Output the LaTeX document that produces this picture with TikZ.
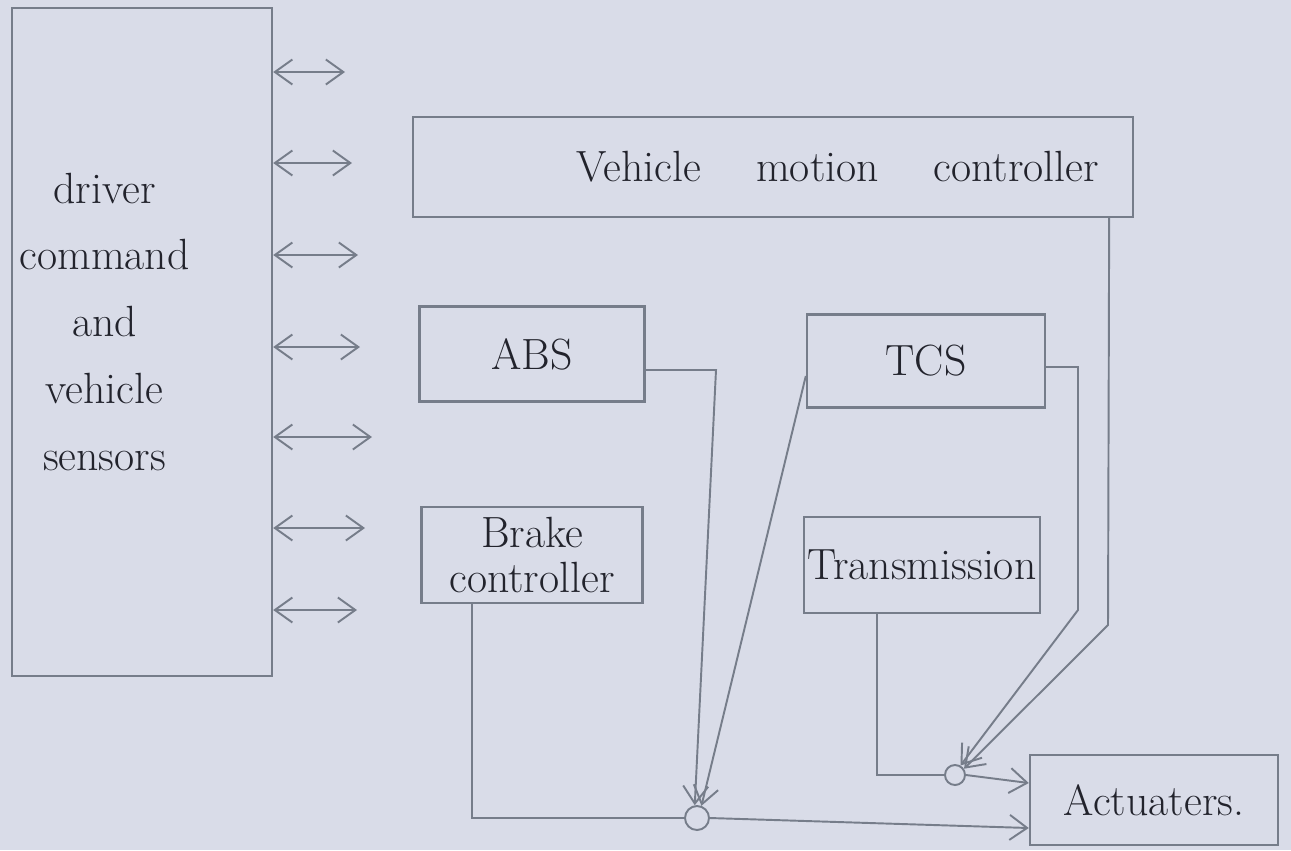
\documentclass[tikz,border=0pt]{standalone}
\usetikzlibrary{arrows.meta,positioning}
\definecolor{paper}{HTML}{D9DCE8}
\definecolor{pencil}{HTML}{767D8A}
\definecolor{ink}{HTML}{22232C}

\begin{document}
\begin{tikzpicture}[x=0.02cm,y=-0.02cm,
  blockbox/.style={draw=pencil,line width=1.4pt,text=ink,font=\Huge,align=center,inner sep=2pt},
  wire/.style={draw=pencil,line width=1.1pt},
  sig/.style={wire,-{Straight Barb[length=3.5mm,width=5mm]}},
  dblarrow/.style={wire,{Straight Barb[length=3.5mm,width=5mm]}-{Straight Barb[length=3.5mm,width=5mm]}},
  junc/.style={circle,draw=pencil,line width=1.1pt,inner sep=0pt}]
\fill[paper] (0,0) rectangle (1291,850);
\useasboundingbox (0,0) rectangle (1291,850);

\node[blockbox,minimum width=5.2cm,minimum height=13.36cm] (drv) at (142,342)
  {\raisebox{0.1cm}[0pt][0pt]{\begin{tabular}{@{}c@{}}driver\\[8pt]command\\[8pt]and\\[8pt]vehicle\\[8pt]sensors\end{tabular}}\hspace*{1.5cm}};
\node[blockbox,minimum width=14.4cm,minimum height=2cm] (vmc) at (773,167)
  {\hspace*{2.6cm}Vehicle\hspace{1.1cm}motion\hspace{1.1cm}controller};
\node[blockbox,minimum width=4.5cm,minimum height=1.9cm] (abs) at (532,354) {ABS};
\node[blockbox,minimum width=4.42cm,minimum height=1.92cm] (brk) at (532,555) {Brake\\[-4pt]controller};
\node[blockbox,minimum width=4.76cm,minimum height=1.86cm] (tcs) at (926,361) {TCS};
\node[blockbox,minimum width=4.7cm,minimum height=1.92cm] (trn) at (922,565) {Transmission};
\node[blockbox,minimum width=4.96cm,minimum height=1.8cm] (act) at (1154,800) {Actuaters.};
\node[junc,minimum size=0.48cm] (j1) at (697,818) {};
\node[junc,minimum size=0.4cm] (j2) at (955,775) {};

% links to the driver / sensor block
\foreach \yy/\xx [count=\i] in {72/345,163/352,255/358,347/360,437/372,528/365,610/357}
  {\coordinate (io\i) at (\xx,\yy);
   \draw[dblarrow] (drv.east |- io\i) -- (io\i);}

% brake side
\draw[sig] ([yshift=-0.32cm]abs.east) -- (716,370) -- (j1.100);
\draw[sig] ([yshift=-0.3cm]tcs.west) -- (j1.70);
\draw[wire] ([xshift=-1.2cm]brk.south) |- (j1.west);
\draw[sig] (j1.east) -- ([yshift=-0.56cm]act.west);

% drive side
\draw[wire] ([xshift=-0.9cm]trn.south) |- (j2.west);
\draw[sig] (j2.east) -- ([yshift=0.34cm]act.west);
\draw[sig] ([yshift=-0.12cm]tcs.east) -- (1078,367) -- (1078,610) -- (j2.60);
\draw[sig] ([xshift=-0.5cm]vmc.south east) -- (1108,625) -- (j2.35);
\end{tikzpicture}
\end{document}
